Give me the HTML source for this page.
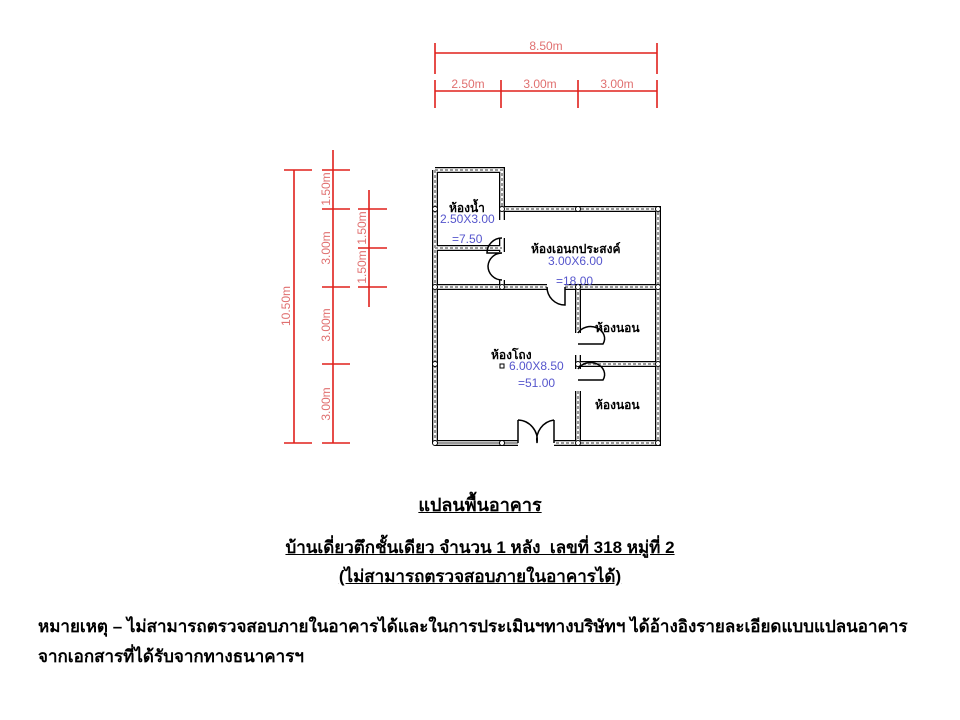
<!DOCTYPE html><html><head><style>
body{margin:0;background:#fff;width:960px;height:720px;overflow:hidden;font-family:"Liberation Sans","Noto Sans CJK SC",sans-serif}
.t{position:absolute;left:0;width:960px;text-align:center;font-weight:bold;color:#000;text-decoration:underline}
</style></head><body>
<svg width="960" height="720" style="position:absolute;left:0;top:0" font-family="Liberation Sans, sans-serif">
<g stroke="#e0201c" stroke-width="1.6" fill="none">
<line x1="435" y1="53" x2="657" y2="53"/><line x1="435" y1="43" x2="435" y2="74"/><line x1="657" y1="43" x2="657" y2="74"/>
<line x1="435" y1="91" x2="657" y2="91"/>
<line x1="435" y1="80" x2="435" y2="108"/><line x1="501" y1="80" x2="501" y2="108"/><line x1="578" y1="80" x2="578" y2="108"/><line x1="657" y1="80" x2="657" y2="108"/>
<line x1="294" y1="170" x2="294" y2="443"/><line x1="284" y1="170" x2="312" y2="170"/><line x1="284" y1="443" x2="312" y2="443"/>
<line x1="333" y1="150" x2="333" y2="443"/>
<line x1="322" y1="170" x2="350" y2="170"/><line x1="322" y1="209" x2="350" y2="209"/><line x1="322" y1="287" x2="350" y2="287"/><line x1="322" y1="364" x2="350" y2="364"/><line x1="322" y1="443" x2="350" y2="443"/>
<line x1="369" y1="190" x2="369" y2="307"/>
<line x1="358" y1="209" x2="387" y2="209"/><line x1="358" y1="248" x2="387" y2="248"/><line x1="358" y1="287" x2="387" y2="287"/>
</g>
<g fill="#e07070" font-size="12">
<text x="546" y="50" text-anchor="middle">8.50m</text>
<text x="468" y="88" text-anchor="middle">2.50m</text>
<text x="540" y="88" text-anchor="middle">3.00m</text>
<text x="617" y="88" text-anchor="middle">3.00m</text>
<text transform="translate(290,306) rotate(-90)" text-anchor="middle">10.50m</text>
<text transform="translate(330,189) rotate(-90)" text-anchor="middle">1.50m</text>
<text transform="translate(330,248) rotate(-90)" text-anchor="middle">3.00m</text>
<text transform="translate(330,325) rotate(-90)" text-anchor="middle">3.00m</text>
<text transform="translate(330,404) rotate(-90)" text-anchor="middle">3.00m</text>
<text transform="translate(366,228) rotate(-90)" text-anchor="middle">1.50m</text>
<text transform="translate(366,267) rotate(-90)" text-anchor="middle">1.50m</text>
</g>
<g fill="none" stroke-linecap="butt">
<g stroke="#000" stroke-width="6">
<path d="M435 170H502V209H658V443H554 M518 443H435Z M435 170V443"/>
<path d="M435 248H502 M502 209V220 M502 238V252 M502 280V287 M435 287H547 M565 287H658 M578 287V333 M578 355V369 M578 391V443 M578 364H658"/>
</g>
<g stroke="#fff" stroke-width="3.4">
<path d="M435 170H502V209H658V443H554 M518 443H435Z M435 170V443"/>
<path d="M435 248H502 M502 209V220 M502 238V252 M502 280V287 M435 287H547 M565 287H658 M578 287V333 M578 355V369 M578 391V443 M578 364H658"/>
</g>
<g stroke="#999" stroke-width="2" stroke-dasharray="3 2">
<path d="M435 170H502V209H658V443H554 M518 443H435Z M435 170V443"/>
<path d="M435 248H502 M435 287H547 M565 287H658 M578 287V333 M578 391V443 M578 364H658"/>
</g>
<g stroke="#000" stroke-width="1.5">
<path d="M502 238A15 15 0 0 0 487 253H502 M502 253A14 14 0 0 0 488 266A14 14 0 0 0 502 280"/>
<path d="M547 287A18 18 0 0 0 565 305V287"/>
<path d="M578 333A13 11 0 0 1 603 344H578 M578 380H603A13 11 0 0 0 578 369"/>
<path d="M518 443V420 M518 420A20 20 0 0 1 537 443 M554 443V420 M554 420A20 20 0 0 0 537 443"/>
</g>
</g>
<g fill="#fff" stroke="#000" stroke-width="1">
<circle cx="435" cy="209" r="2.5"/><circle cx="502" cy="209" r="2.5"/><circle cx="578" cy="209" r="2.5"/><circle cx="658" cy="209" r="2.5"/>
<circle cx="435" cy="287" r="2.5"/><circle cx="502" cy="287" r="2.5"/><circle cx="578" cy="287" r="2.5"/><circle cx="658" cy="287" r="2.5"/>
<circle cx="435" cy="364" r="2.5"/><circle cx="578" cy="364" r="2.5"/><circle cx="658" cy="364" r="2.5"/>
<circle cx="435" cy="443" r="2.5"/><circle cx="502" cy="443" r="2.5"/><circle cx="578" cy="443" r="2.5"/><circle cx="658" cy="443" r="2.5"/>
</g>
<g font-size="12" fill="#000" font-weight="bold" font-family="Liberation Sans, Noto Sans CJK SC, sans-serif">
<text x="449" y="212">ห้องน้ำ</text>
<text x="531" y="253">ห้องเอนกประสงค์</text>
<text x="595" y="332">ห้องนอน</text>
<text x="491" y="359">ห้องโถง</text>
<text x="595" y="409">ห้องนอน</text>
</g>
<g font-size="12" fill="#5555cc">
<text x="440" y="223">2.50X3.00</text>
<text x="452" y="243">=7.50</text>
<text x="548" y="265">3.00X6.00</text>
<text x="556" y="285">=18.00</text>
<text x="509" y="370">6.00X8.50</text>
<text x="518" y="387">=51.00</text>
</g>
<rect x="500" y="364" width="4" height="4" fill="none" stroke="#000"/>
</svg>
<div class="t" style="top:490px;font-size:18px">แปลนพื้นอาคาร</div>
<div class="t" style="top:534px;font-size:17px">บ้านเดี่ยวตึกชั้นเดียว จำนวน 1 หลัง&nbsp; เลขที่ 318 หมู่ที่ 2</div>
<div class="t" style="top:563px;font-size:17px">(ไม่สามารถตรวจสอบภายในอาคารได้)</div>
<div style="position:absolute;left:38px;top:612px;font-size:17px;font-weight:bold;line-height:30px;white-space:nowrap">หมายเหตุ – ไม่สามารถตรวจสอบภายในอาคารได้และในการประเมินฯทางบริษัทฯ ได้อ้างอิงรายละเอียดแบบแปลนอาคาร<br>จากเอกสารที่ได้รับจากทางธนาคารฯ</div>
</body></html>
